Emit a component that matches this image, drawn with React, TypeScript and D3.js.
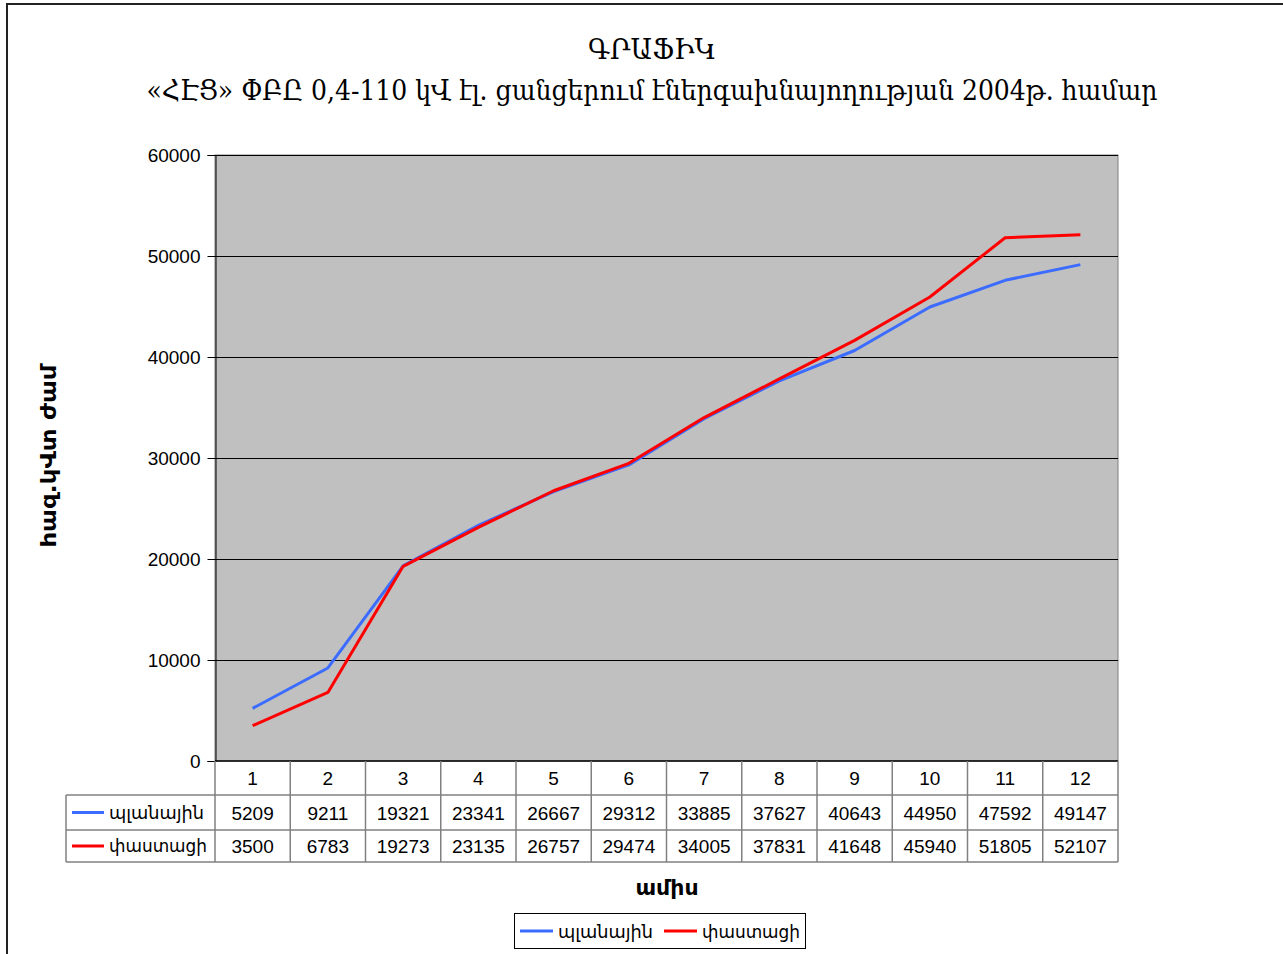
import { useEffect, useRef } from 'react';
import * as d3 from 'd3';

const months = ['1', '2', '3', '4', '5', '6', '7', '8', '9', '10', '11', '12'];
const planned = [5209, 9211, 19321, 23341, 26667, 29312, 33885, 37627, 40643, 44950, 47592, 49147];
const actual = [3500, 6783, 19273, 23135, 26757, 29474, 34005, 37831, 41648, 45940, 51805, 52107];
const seriesNames = ['պլանային', 'փաստացի'];
const seriesColors = ['#3b6cff', '#ff0000'];
const yTicks = [0, 10000, 20000, 30000, 40000, 50000, 60000];

const W = 1283;
const H = 954;

export default function App() {
  const svgRef = useRef<SVGSVGElement>(null);

  useEffect(() => {
    if (!svgRef.current) return;
    const svg = d3.select(svgRef.current);
    svg.selectAll('*').remove();

    const left = 215, right = 1118, top = 155, bottom = 761;
    const sans = '"Liberation Sans", Arial, "DejaVu Sans", sans-serif';
    const arm = '"DejaVu Sans", sans-serif';
    const serif = '"DejaVu Serif Condensed", "DejaVu Serif", serif';
    const nameWidths = [95, 98];

    // outer frame (only left and top edges are visible)
    svg.append('path')
      .attr('d', `M7,${H} L7,4 L${W},4`)
      .attr('fill', 'none').attr('stroke', '#222').attr('stroke-width', 2);

    // title
    svg.append('text')
      .attr('x', 652).attr('y', 59)
      .attr('text-anchor', 'middle')
      .attr('font-family', serif).attr('font-size', 27)
      .attr('textLength', 128).attr('lengthAdjust', 'spacingAndGlyphs')
      .text('ԳՐԱՖԻԿ');
    svg.append('text')
      .attr('x', 652).attr('y', 100)
      .attr('text-anchor', 'middle')
      .attr('font-family', serif).attr('font-size', 27)
      .attr('textLength', 1011).attr('lengthAdjust', 'spacingAndGlyphs')
      .text('«ՀԷՑ» ՓԲԸ 0,4-110 կՎ էլ. ցանցերում էներգախնայողության 2004թ. համար');

    const x = d3.scaleBand().domain(months).range([left, right]);
    const y = d3.scaleLinear().domain([0, 60000]).range([bottom, top]);

    svg.append('rect')
      .attr('x', left).attr('y', top).attr('width', right - left).attr('height', bottom - top)
      .attr('fill', '#c0c0c0').attr('stroke', '#808080').attr('stroke-width', 1);

    svg.append('g').selectAll('line').data(yTicks.filter(t => t > 0)).enter().append('line')
      .attr('x1', left).attr('x2', right)
      .attr('y1', d => Math.round(y(d)) + 0.5).attr('y2', d => Math.round(y(d)) + 0.5)
      .attr('stroke', '#000').attr('stroke-width', 1);

    // y axis
    const yAxis = svg.append('g').attr('transform', `translate(${left + 0.5},0)`)
      .call(d3.axisLeft(y).tickValues(yTicks).tickSize(8).tickPadding(7).tickFormat(d3.format('d')));
    yAxis.select('.domain').attr('stroke', '#000');
    yAxis.selectAll('.tick line').attr('stroke', '#000');
    yAxis.selectAll('text').attr('font-family', sans).attr('font-size', 19).attr('fill', '#000');

    svg.append('text')
      .attr('transform', 'translate(56,456) rotate(-90)')
      .attr('text-anchor', 'middle')
      .attr('font-family', arm).attr('font-weight', 'bold').attr('font-size', 22)
      .attr('textLength', 183).attr('lengthAdjust', 'spacingAndGlyphs')
      .text('հազ.կՎտ ժամ');

    // lines
    const line = d3.line<number>()
      .x((_, i) => (x(months[i]) as number) + x.bandwidth() / 2)
      .y(d => y(d));
    [planned, actual].forEach((s, i) => {
      svg.append('path').datum(s)
        .attr('d', line)
        .attr('fill', 'none')
        .attr('stroke', seriesColors[i])
        .attr('stroke-width', 3)
        .attr('stroke-linejoin', 'round');
    });

    // data table
    const tLeft = 66, r0 = bottom, r1 = 795, r2 = 830, r3 = 862;
    const grid = svg.append('g').attr('stroke', '#808080').attr('stroke-width', 1.5).attr('fill', 'none');
    grid.append('line').attr('x1', left).attr('x2', right).attr('y1', r0).attr('y2', r0).attr('stroke', '#000');
    grid.append('line').attr('x1', tLeft).attr('x2', right).attr('y1', r1).attr('y2', r1);
    grid.append('line').attr('x1', tLeft).attr('x2', right).attr('y1', r2).attr('y2', r2);
    grid.append('line').attr('x1', tLeft).attr('x2', right).attr('y1', r3).attr('y2', r3);
    grid.append('line').attr('x1', tLeft).attr('x2', tLeft).attr('y1', r1).attr('y2', r3);
    months.forEach(m => {
      const xx = x(m) as number;
      grid.append('line').attr('x1', xx).attr('x2', xx).attr('y1', r0).attr('y2', r3);
    });
    grid.append('line').attr('x1', right).attr('x2', right).attr('y1', r0).attr('y2', r3);

    const cx = (m: string) => (x(m) as number) + x.bandwidth() / 2;
    svg.append('g').selectAll('text').data(months).enter().append('text')
      .attr('x', cx).attr('y', (r0 + r1) / 2 + 7)
      .attr('text-anchor', 'middle').attr('font-family', sans).attr('font-size', 19)
      .text(d => d);
    [planned, actual].forEach((s, si) => {
      const ry = si === 0 ? (r1 + r2) / 2 : (r2 + r3) / 2;
      svg.append('g').selectAll('text').data(s).enter().append('text')
        .attr('x', (_, i) => cx(months[i])).attr('y', ry + 7)
        .attr('text-anchor', 'middle').attr('font-family', sans).attr('font-size', 19)
        .text(d => String(d));
      svg.append('line').attr('x1', 72).attr('x2', 104).attr('y1', ry).attr('y2', ry)
        .attr('stroke', seriesColors[si]).attr('stroke-width', 3);
      svg.append('text').attr('x', 109).attr('y', ry + 6)
        .attr('font-family', arm).attr('font-size', 18)
        .attr('textLength', nameWidths[si]).attr('lengthAdjust', 'spacingAndGlyphs')
        .text(seriesNames[si]);
    });

    svg.append('text')
      .attr('x', 667).attr('y', 895)
      .attr('text-anchor', 'middle')
      .attr('font-family', arm).attr('font-weight', 'bold').attr('font-size', 22)
      .text('ամիս');

    // legend
    const lg = svg.append('g');
    lg.append('rect').attr('x', 514.5).attr('y', 913.5).attr('width', 291).attr('height', 35)
      .attr('fill', '#fff').attr('stroke', '#000').attr('stroke-width', 1);
    const lx = [520, 664];
    seriesNames.forEach((n, i) => {
      lg.append('line').attr('x1', lx[i]).attr('x2', lx[i] + 33).attr('y1', 931).attr('y2', 931)
        .attr('stroke', seriesColors[i]).attr('stroke-width', 3);
      lg.append('text').attr('x', lx[i] + 38).attr('y', 938)
        .attr('font-family', arm).attr('font-size', 18)
        .attr('textLength', nameWidths[i]).attr('lengthAdjust', 'spacingAndGlyphs')
        .text(n);
    });
  }, []);

  return (
    <svg ref={svgRef} width={W} height={H}
      style={{ position: 'absolute', left: 0, top: 0, background: '#fff' }} />
  );
}
